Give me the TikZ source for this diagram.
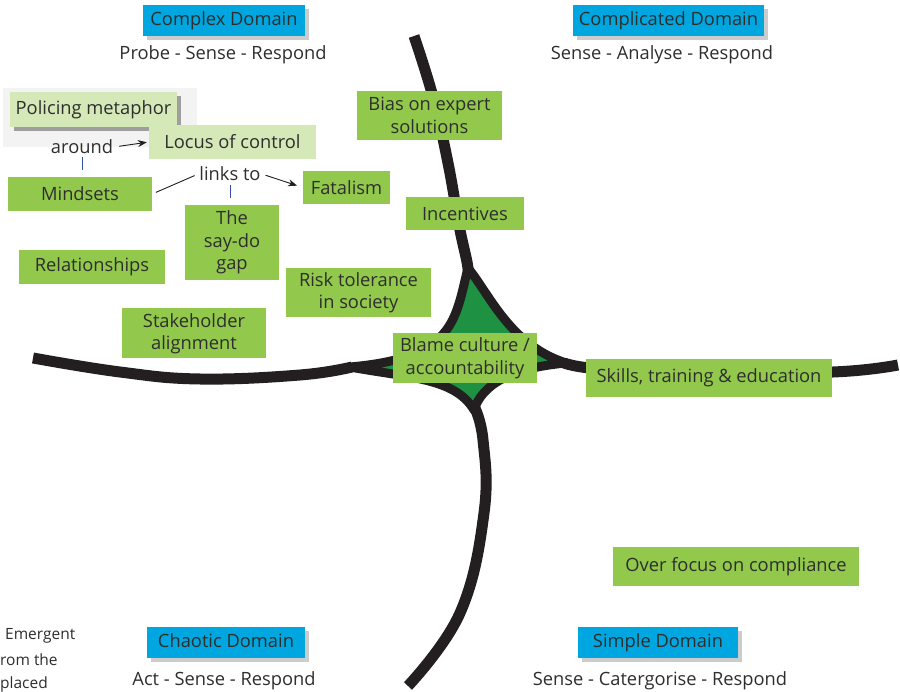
\documentclass[tikz,border=0pt]{standalone}
\usepackage{fontspec}
\setmainfont{Open Sans}
\usetikzlibrary{arrows.meta,shadows}
\definecolor{dblue}{HTML}{00A6DF}
\definecolor{bgreen}{HTML}{92C84B}
\definecolor{lgreen}{HTML}{D5E8B8}
\definecolor{sgreen}{HTML}{1E9142}
\definecolor{ink}{HTML}{231F20}
\definecolor{txt}{HTML}{2E2E2E}
\definecolor{bgrey}{HTML}{F3F3F3}
\definecolor{tickblue}{HTML}{3050B0}
\tikzset{
  every node/.style={text=txt, font=\fontsize{18.3}{22.5}\selectfont},
  dombox/.style={fill=dblue, inner sep=0pt, text height=13pt, text depth=3pt, drop shadow={shadow xshift=4pt, shadow yshift=-4pt, opacity=0.2, fill=black}},
  gbox/.style={fill=bgreen, align=center, inner sep=0pt},
  lbox/.style={fill=lgreen, align=center, inner sep=0pt},
  plaintext/.style={inner sep=1pt},
  armline/.style={draw=ink, line width=11pt},
  linkline/.style={draw=ink, line width=0.9pt},
  tickline/.style={draw=tickblue, line width=0.8pt},
  linkarrow/.style={linkline, -{Stealth[length=9pt,width=7pt]}},
}
\begin{document}
\begin{tikzpicture}[x=1pt,y=-1pt]
\useasboundingbox (0,0) rectangle (900,692);
\fill[white] (0,0) rectangle (900,692);
\fill[bgrey] (3,88) rectangle (197,147);

% Cynefin curves
\draw[armline] plot[smooth, tension=0.7] coordinates {(414,36) (433,97) (448,163) (459,225) (467,262) (468,272)};
\draw[armline] plot[smooth, tension=0.7] coordinates {(33,358) (120,372) (200,379) (300,375) (352,367)};
\draw[armline] plot[smooth, tension=0.7] coordinates {(564,363) (600,369) (700,373) (833,372) (898,365)};
\draw[armline] plot[smooth, tension=0.7] coordinates {(474,406) (483,440) (484,513) (460,613) (408,686)};
\filldraw[fill=sgreen, draw=ink, line width=9pt, line join=round]
  (468,268) .. controls (490,295) and (510,345) .. (566,363)
  .. controls (510,368) and (482,385) .. (474,410)
  .. controls (455,378) and (410,378) .. (350,367)
  .. controls (455,358) and (455,320) .. cycle;

% Domains
\node[dombox, minimum width=162pt, minimum height=31pt] (complex) at (224,20.5) {Complex Domain};
\node[plaintext] (complexs) at (223,55) {Probe - Sense - Respond};
\node[dombox, minimum width=191pt, minimum height=31pt] (complicated) at (668.5,20.5) {Complicated Domain};
\node[plaintext] (complicateds) at (662,55) {Sense - Analyse - Respond};
\node[dombox, minimum width=158pt, minimum height=31pt] (chaotic) at (226,642.5) {Chaotic Domain};
\node[plaintext] (chaotics) at (224,681) {Act - Sense - Respond};
\node[dombox, minimum width=160pt, minimum height=31pt] (simple) at (658,642.5) {Simple Domain};
\node[plaintext] (simples) at (660,681) {Sense - Catergorise - Respond};

% Boxes
\node[lbox, minimum width=167pt, minimum height=35pt, drop shadow={shadow xshift=4pt, shadow yshift=-4pt, opacity=0.35, fill=black}] (policing) at (93.5,109.5) {Policing metaphor};
\node[lbox, minimum width=167pt, minimum height=34pt] (locus) at (232.5,142) {Locus of control};
\node[gbox, minimum width=144pt, minimum height=34pt] (mindsets) at (80,194) {Mindsets};
\node[gbox, minimum width=94pt, minimum height=75pt] (saydo) at (232,242.5) {The\\say-do\\gap};
\node[gbox, minimum width=146pt, minimum height=34pt] (relationships) at (92,267) {Relationships};
\node[gbox, minimum width=87pt, minimum height=33pt] (fatalism) at (346.5,187.5) {Fatalism};
\node[gbox, minimum width=145pt, minimum height=49pt] (bias) at (429.5,115.5) {Bias on expert\\solutions};
\node[gbox, minimum width=118pt, minimum height=33pt] (incentives) at (465,213.5) {Incentives};
\node[gbox, minimum width=145pt, minimum height=49pt] (risk) at (358.5,292.5) {Risk tolerance\\in society};
\node[gbox, minimum width=144pt, minimum height=50pt] (stake) at (194,333.5) {Stakeholder\\alignment};
\node[gbox, minimum width=144pt, minimum height=50pt] (blame) at (465,358) {Blame culture /\\accountability};
\node[gbox, minimum width=246pt, minimum height=38pt] (skills) at (709,378) {Skills, training \& education};
\node[gbox, minimum width=246pt, minimum height=39pt] (over) at (736,566.5) {Over focus on compliance};

% Labels and links
\node[plaintext] (around) at (82,147) {around};
\node[plaintext] (links) at (230,174) {links to};
\draw[linkarrow, shorten <=5pt, shorten >=2pt] (around.east) -- (locus.west);
\draw[linkline, shorten <=4pt, shorten >=4pt] (mindsets.east) -- (links.west);
\draw[linkarrow, shorten <=4pt, shorten >=6pt] (links.east) -- (fatalism.west);
\draw[tickline, shorten <=2pt, shorten >=7pt] (around.south) -- (around.south |- mindsets.north);
\draw[tickline, shorten <=3pt, shorten >=7pt] (links.south) -- (links.south |- saydo.north);

% Text at bottom left edge
\node[plaintext, anchor=west, font=\fontsize{15.5}{18}\selectfont] (em1) at (4,636) {Emergent};
\node[plaintext, anchor=west, font=\fontsize{15.5}{18}\selectfont] (em2) at (-1,660) {rom the};
\node[plaintext, anchor=west, font=\fontsize{15.5}{18}\selectfont] (em3) at (-1,684) {placed};
\end{tikzpicture}
\end{document}
